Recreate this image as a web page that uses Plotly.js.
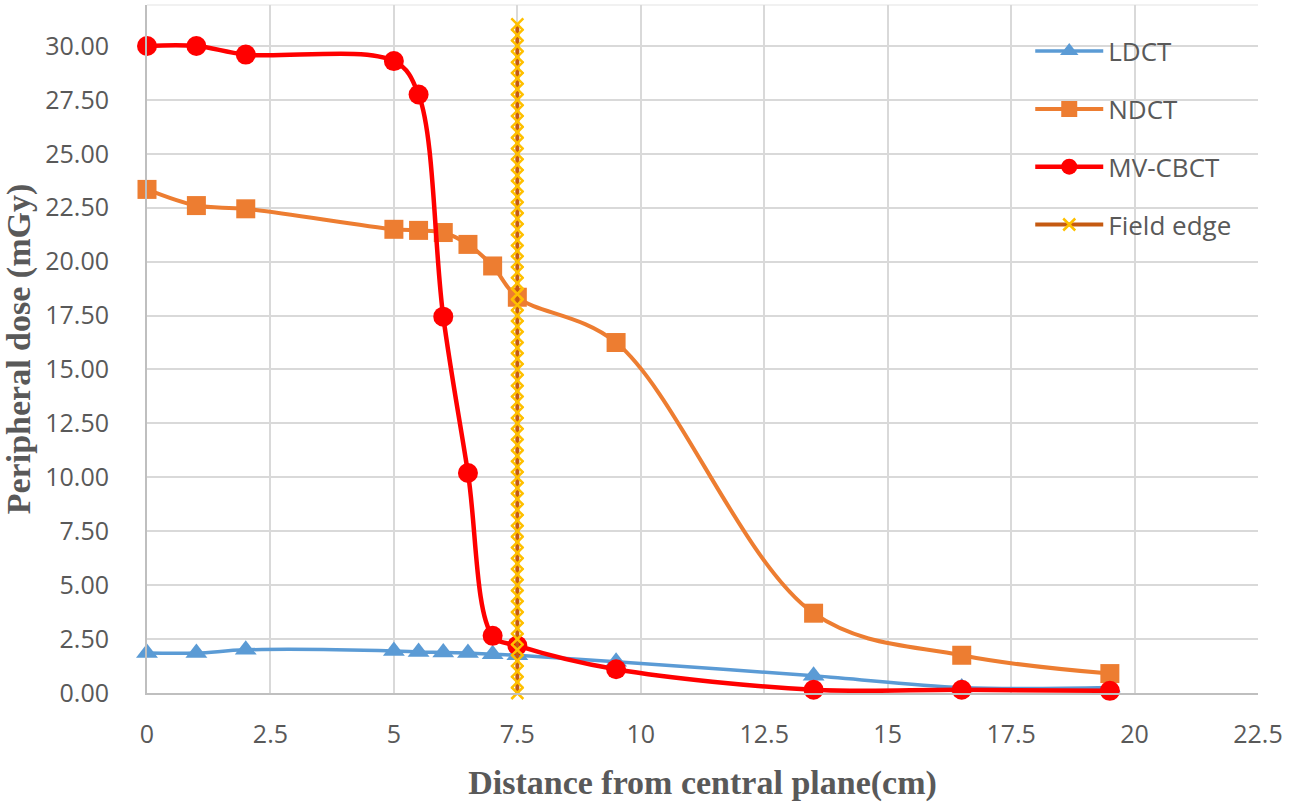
<!DOCTYPE html>
<html>
<head>
<meta charset="utf-8">
<script src="https://cdn.plot.ly/plotly-3.0.1.min.js"></script>
<style>
  html, body { margin: 0; padding: 0; background: #fff; }
  #chart { width: 1293px; height: 807px; }
</style>
</head>
<body>
<div id="chart"></div>
<script>
// distances from the central plane (cm)
const distance = [0, 1, 2, 5, 5.5, 6, 6.5, 7, 7.5, 9.5, 13.5, 16.5, 19.5];

// peripheral dose (mGy) per imaging mode
const ldct   = [1.85, 1.85, 2.00, 1.95, 1.90, 1.88, 1.85, 1.80, 1.75, 1.45, 0.80, 0.25, 0.25];
const ndct   = [23.35, 22.60, 22.45, 21.50, 21.45, 21.35, 20.80, 19.80, 18.35, 16.25, 3.70, 1.75, 0.90];
const mvcbct = [30.00, 30.00, 29.60, 29.30, 27.75, 17.45, 10.20, 2.65, 2.20, 1.10, 0.15, 0.15, 0.10];

// field edge marker column at 7.5 cm
const fieldEdgeX = [7.5, 7.5, 7.5, 7.5, 7.5, 7.5, 7.5, 7.5, 7.5, 7.5, 7.5, 7.5, 7.5, 7.5, 7.5, 7.5,
                    7.5, 7.5, 7.5, 7.5, 7.5, 7.5, 7.5, 7.5, 7.5, 7.5, 7.5, 7.5, 7.5, 7.5, 7.5, 7.5,
                    7.5, 7.5, 7.5, 7.5, 7.5, 7.5, 7.5, 7.5, 7.5, 7.5, 7.5, 7.5, 7.5, 7.5, 7.5, 7.5,
                    7.5, 7.5, 7.5, 7.5, 7.5, 7.5, 7.5, 7.5, 7.5, 7.5, 7.5, 7.5, 7.5, 7.5, 7.5];
const fieldEdgeY = [0, 0.5, 1, 1.5, 2, 2.5, 3, 3.5, 4, 4.5, 5, 5.5, 6, 6.5, 7, 7.5,
                    8, 8.5, 9, 9.5, 10, 10.5, 11, 11.5, 12, 12.5, 13, 13.5, 14, 14.5, 15, 15.5,
                    16, 16.5, 17, 17.5, 18, 18.5, 19, 19.5, 20, 20.5, 21, 21.5, 22, 22.5, 23, 23.5,
                    24, 24.5, 25, 25.5, 26, 26.5, 27, 27.5, 28, 28.5, 29, 29.5, 30, 30.5, 31];

const TXT = '#595959';
const GRID = '#d9d9d9';

const series = [
  { name: 'LDCT',    y: ldct,   color: '#5b9bd5', symbol: 'triangle-up', width: 3.5, size: 19 },
  { name: 'NDCT',    y: ndct,   color: '#ed7d31', symbol: 'square',      width: 4,   size: 19 },
  { name: 'MV-CBCT', y: mvcbct, color: '#ff0000', symbol: 'circle',      width: 4.5, size: 20 },
];

const traces = series.map(s => ({
  type: 'scatter', mode: 'lines+markers',
  name: s.name,
  x: distance,
  y: s.y,
  line: { color: s.color, width: s.width, shape: 'spline', smoothing: 1 },
  marker: { color: s.color, symbol: s.symbol, size: s.size },
  legendgroup: s.name,
  cliponaxis: false,
}));

traces.push({
  type: 'scatter', mode: 'lines+markers',
  name: 'Field edge',
  x: fieldEdgeX,
  y: fieldEdgeY,
  line: { color: '#c55a11', width: 4 },
  marker: { symbol: 'x-thin-open', size: 12, color: '#ffc000', line: { color: '#ffc000', width: 2.5 } },
  legendgroup: 'Field edge',
  cliponaxis: false,
});

const layout = {
  width: 1293, height: 807,
  margin: { l: 147, r: 35, t: 5, b: 114 },
  paper_bgcolor: '#fff', plot_bgcolor: '#fff',
  font: { family: 'Open Sans, sans-serif', color: TXT, size: 25 },
  showlegend: true,
  legend: {
    x: 0.795, y: 0.967, xanchor: 'left', yanchor: 'top',
    bgcolor: 'rgba(0,0,0,0)',
    font: { size: 26, color: TXT },
    itemwidth: 68,
    tracegroupgap: 21,
    traceorder: 'grouped',
  },
  xaxis: {
    range: [0, 22.5],
    dtick: 2.5, tick0: 0,
    showgrid: true, gridcolor: GRID, gridwidth: 2,
    showline: true, linecolor: '#bfbfbf', linewidth: 2,
    zeroline: false,
    ticks: '',
    ticklabelstandoff: 18,
    tickfont: { size: 25, color: TXT },
    title: {
      text: 'Distance from central plane(cm)',
      font: { family: 'Liberation Serif, serif', size: 34, color: TXT, weight: 'bold' },
      standoff: 21,
    },
  },
  yaxis: {
    range: [0, 31.9],
    dtick: 2.5, tick0: 0,
    tickformat: '.2f',
    showgrid: true, gridcolor: GRID, gridwidth: 2,
    showline: true, linecolor: '#bfbfbf', linewidth: 2,
    zeroline: false,
    ticks: '',
    ticklabelstandoff: 31,
    tickfont: { size: 25, color: TXT },
    title: {
      text: 'Peripheral dose (mGy)',
      font: { family: 'Liberation Serif, serif', size: 34, color: TXT, weight: 'bold' },
      standoff: 11,
    },
  },
  shapes: [
    { type: 'line', xref: 'paper', yref: 'paper', x0: 0, x1: 1, y0: 1, y1: 1,
      line: { color: '#ececec', width: 1.5 }, layer: 'below' },
  ],
};

Plotly.newPlot('chart', traces, layout, { displayModeBar: false, responsive: false });
</script>
</body>
</html>
